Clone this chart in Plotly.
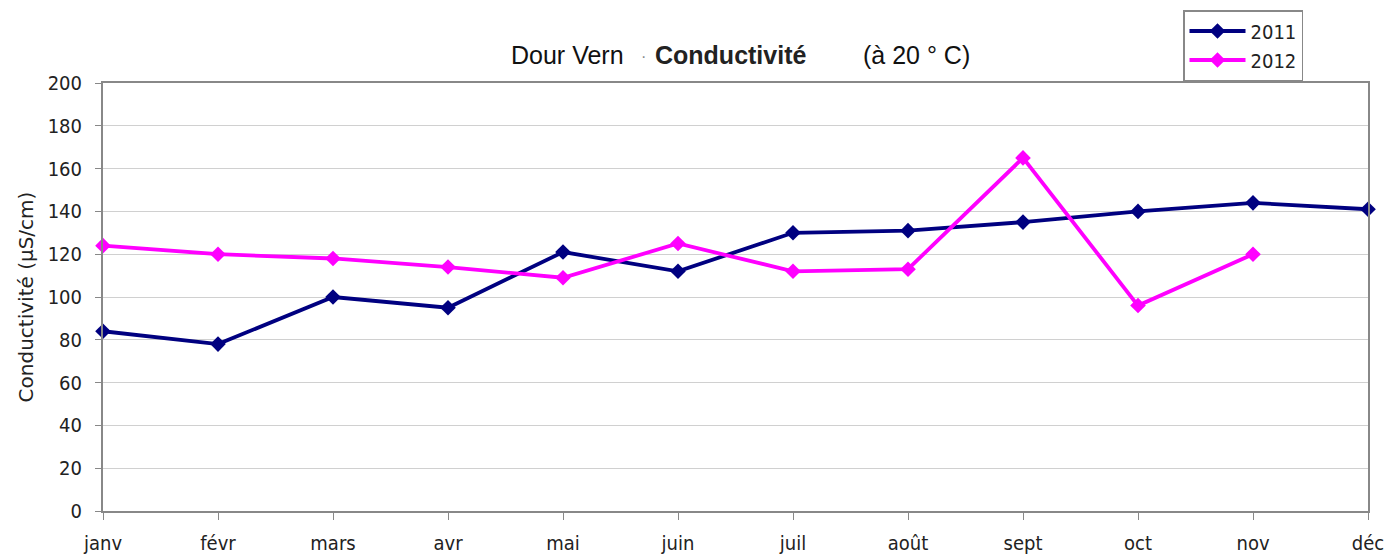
import plotly.graph_objects as go

months = ["janv", "févr", "mars", "avr", "mai", "juin", "juil", "août", "sept", "oct", "nov", "déc"]
y2011 = [84, 78, 100, 95, 121, 112, 130, 131, 135, 140, 144, 141]
y2012 = [124, 120, 118, 114, 109, 125, 112, 113, 165, 96, 120]
yticks = [0, 20, 40, 60, 80, 100, 120, 140, 160, 180, 200]

tickfont = dict(family="DejaVu Sans Condensed, DejaVu Sans", size=20, color="#222222")

fig = go.Figure()
fig.add_trace(go.Scatter(
    x=list(range(len(y2011))), y=y2011, name="2011", mode="lines+markers",
    legendgroup="a",
    line=dict(color="#000080", width=3.8),
    marker=dict(symbol="diamond", size=12, color="#000080"),
    cliponaxis=False,
))
fig.add_trace(go.Scatter(
    x=list(range(len(y2012))), y=y2012, name="2012", mode="lines+markers",
    legendgroup="b",
    line=dict(color="#FF00FF", width=3.8),
    marker=dict(symbol="diamond", size=12, color="#FF00FF"),
    cliponaxis=False,
))

L, R, T, B = 103, 26, 83, 46
pw = 1394 - L - R
ph = 557 - T - B


def px(x):
    return (x - L) / pw


def py(y):
    return (557 - B - y) / ph


fig.update_layout(
    width=1394, height=557,
    margin=dict(l=L, r=R, t=T, b=B, autoexpand=False),
    paper_bgcolor="white", plot_bgcolor="white",
    showlegend=True,
    legend=dict(
        x=px(1183), y=py(10), xanchor="left", yanchor="top",
        xref="paper", yref="paper",
        traceorder="grouped", tracegroupgap=0, itemwidth=56,
        font=dict(family="DejaVu Sans Condensed, DejaVu Sans", size=20, color="#222222"),
        bordercolor="#888888", borderwidth=1.5, bgcolor="white",
    ),
    xaxis=dict(
        range=[0, 11], tickmode="array", tickvals=list(range(12)), ticktext=months,
        showgrid=False, zeroline=False,
        showline=True, linecolor="#888888", linewidth=2, mirror=True,
        ticks="outside", ticklen=7, tickcolor="#888888", tickwidth=1,
        ticklabelstandoff=6,
        tickfont=tickfont,
    ),
    yaxis=dict(
        range=[0, 200], tickmode="array", tickvals=yticks,
        showgrid=True, gridcolor="#d0d0d0", gridwidth=1, zeroline=False,
        showline=True, linecolor="#888888", linewidth=2, mirror=True,
        ticks="outside", ticklen=6, tickcolor="#888888", tickwidth=1,
        ticklabelstandoff=9,
        tickfont=tickfont,
        title=dict(text="Conductivité (µS/cm)",
                   font=dict(family="DejaVu Sans", size=20, color="#222222"),
                   standoff=9),
    ),
)

ty = py(55)
fig.add_annotation(text="Dour Vern", xref="paper", yref="paper",
                   x=px(567), y=ty, xanchor="center", yanchor="middle", showarrow=False,
                   font=dict(family="Liberation Sans, Arial", size=25, color="#111111"))
fig.add_annotation(text="·", xref="paper", yref="paper",
                   x=px(643), y=py(57), xanchor="center", yanchor="middle", showarrow=False,
                   font=dict(family="Liberation Sans, Arial", size=16, color="#888888"))
fig.add_annotation(text="<b>Conductivité</b>", xref="paper", yref="paper",
                   x=px(730), y=ty, xanchor="center", yanchor="middle", showarrow=False,
                   font=dict(family="Liberation Sans, Arial", size=25, color="#222222"))
fig.add_annotation(text="(à 20 ° C)", xref="paper", yref="paper",
                   x=px(917), y=ty, xanchor="center", yanchor="middle", showarrow=False,
                   font=dict(family="Liberation Sans, Arial", size=25, color="#111111"))

fig.write_html("out.html", config={"displayModeBar": False},
               post_script="document.body.style.margin='0';document.body.style.padding='0';")
